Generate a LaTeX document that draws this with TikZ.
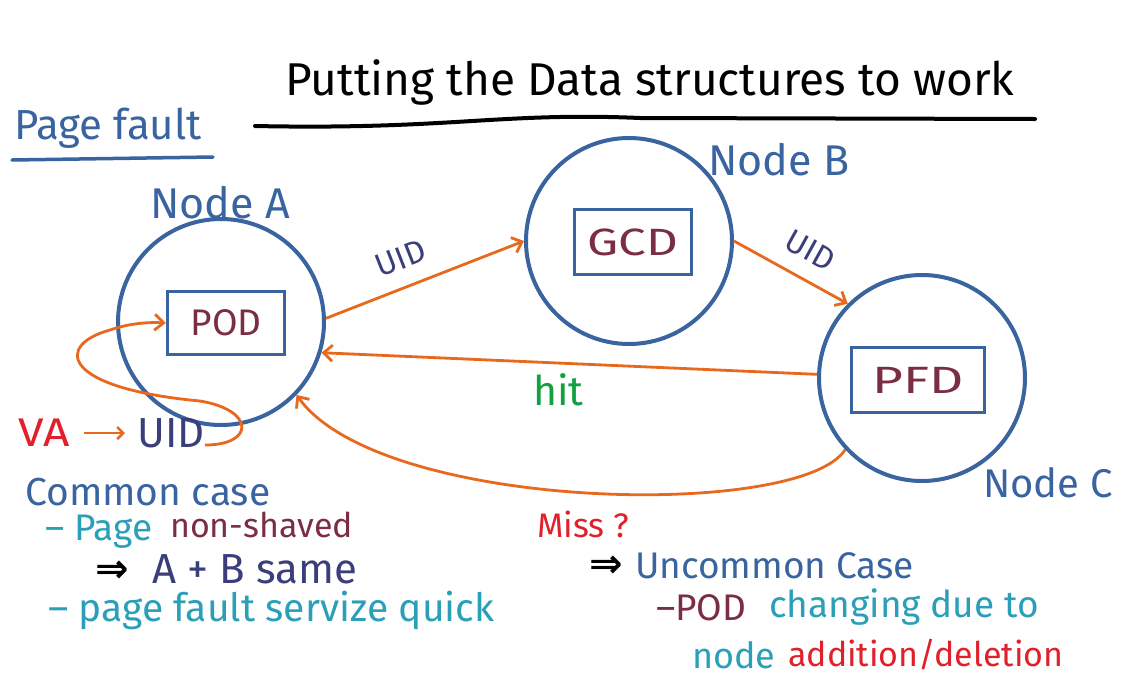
\documentclass[tikz,border=0pt]{standalone}
\usepackage{fontspec}
\setmainfont{Fira Sans}
\newfontfamily\symfont{DejaVu Sans}
\usetikzlibrary{arrows.meta}
\definecolor{cblue}{HTML}{3A64A0}
\definecolor{corange}{HTML}{E8691E}
\definecolor{cmaroon}{HTML}{7B2D42}
\definecolor{cdark}{HTML}{3A3E7A}
\definecolor{cteal}{HTML}{2AA0B8}
\definecolor{cred}{HTML}{E0202A}
\definecolor{cgreen}{HTML}{12A040}
\newcommand{\fs}[1]{\fontsize{#1}{#1}\selectfont}
\tikzset{
  site/.style={draw=cblue, line width=4pt, circle, minimum size=206pt, inner sep=0pt},
  dsbox/.style={draw=cblue, line width=3.5pt, text=cmaroon, inner sep=0pt},
  lbl/.style={inner sep=0pt, anchor=west},
  conn/.style={draw=corange, line width=2.8pt, -{Straight Barb[length=9pt,width=16pt,line width=2.8pt]}},
  uidlbl/.style={sloped, text=cdark, font=\fs{32}, inner sep=0pt},
}
\begin{document}
\begin{tikzpicture}[x=1pt,y=-1pt]
\useasboundingbox (0,0) rectangle (1122,689);
\fill[white] (0,0) rectangle (1122,689);
% title
\node[lbl, font=\fs{46}] (title) at (285,82) {Putting the Data structures to work};
\draw[line width=4pt, line cap=round] (255,126) .. controls (450,130) and (500,112) .. (640,118) -- (1035,119);
\node[lbl, text=cblue, font=\fs{42}] (pf) at (14,128) {Page fault};
\draw[cblue, line width=3.5pt, line cap=round] (12,160) -- (213,157);
% sites
\node[site] (A) at (221,322) {};
\node[site] (B) at (629,241) {};
\node[site] (C) at (922,378) {};
\node[lbl, text=cblue, font=\fs{43}] (la) at (150,203) {Node A};
\node[lbl, text=cblue, font=\fs{43}] (lb) at (708,160) {Node B};
\node[lbl, text=cblue, font=\fs{40}] (lc) at (983,483) {Node C};
\node[dsbox, minimum width=117pt, minimum height=63pt] (pod) at (226,323) {};
\node[text=cmaroon, font=\fs{37}, inner sep=0pt] (podt) at (pod) {POD};
\node[dsbox, minimum width=117pt, minimum height=65pt] (gcd) at (633,242) {};
\node[text=cmaroon, font=\fs{38}, xscale=1.3, inner sep=0pt] (gcdt) at (gcd) {GCD};
\node[dsbox, minimum width=133pt, minimum height=65pt] (pfd) at (918,380) {};
\node[text=cmaroon, font=\fs{38}, xscale=1.4, inner sep=0pt] (pfdt) at (pfd) {PFD};
% connectors
\draw[conn] (A.2) -- node[pos=0.43, above=16pt, uidlbl] {UID} (B.180);
\draw[conn] (B.0) -- node[pos=0.55, above=16pt, uidlbl] {UID} (C.135);
\draw[conn] (C.178) -- (A.-17);
\node[lbl, text=cgreen, font=\fs{41}] (hit) at (533,390) {hit};
\draw[conn] (C.-137) .. controls (800,520) and (380,512) .. (A.-44);
\node[lbl, text=cred, font=\fs{34}] (miss) at (537,524) {Miss ?};
% VA -> UID
\node[lbl, text=cred, font=\fs{40}, xscale=1.15] (va) at (18,433) {VA};
\node[lbl, text=cdark, font=\fs{42}] (uid) at (137,433) {UID};
\draw[conn, line width=2.5pt, -{Straight Barb[length=6pt,width=12pt,line width=2.5pt]}] ([xshift=14pt]va.east) -- ([xshift=-12pt]uid.west);
\coordinate (ls) at (205,445);
\draw[conn] (ls) .. controls (255,445) and (255,410) .. (200,401)
  .. controls (60,388) and (55,345) .. (110,330)
  .. controls (130,323) and (150,322) .. (pod.west);
% common case
\node[lbl, text=cblue, font=\fs{39}] (cc) at (25,492) {Common case};
\node[lbl, text=cteal, font=\fs{37}] (pg) at (45,532) {– Page};
\node[lbl, text=cmaroon, font=\fs{34}] (ns) at (170,525) {non-shaved};
\node[lbl, font=\symfont\bfseries\fs{40}] (imp1) at (95,572) {⇒};
\node[lbl, text=cdark, font=\fs{42}] (ab) at (152,569) {A + B same};
\node[lbl, text=cteal, font=\fs{39}] (pfq) at (48,610) {– page fault servize quick};
% uncommon case
\node[lbl, font=\symfont\bfseries\fs{40}] (imp2) at (589,567) {⇒};
\node[lbl, text=cblue, font=\fs{37}] (uc) at (635,566) {Uncommon Case};
\node[lbl, text=cmaroon, font=\fs{37}] (pod2) at (656,608) {–POD};
\node[lbl, text=cteal, font=\fs{37}] (chg) at (769,607) {changing due to};
\node[lbl, text=cteal, font=\fs{36}] (nd) at (692,655) {node};
\node[lbl, text=cred, font=\fs{34}] (add) at (788,655) {addition/deletion};
\end{tikzpicture}
\end{document}
